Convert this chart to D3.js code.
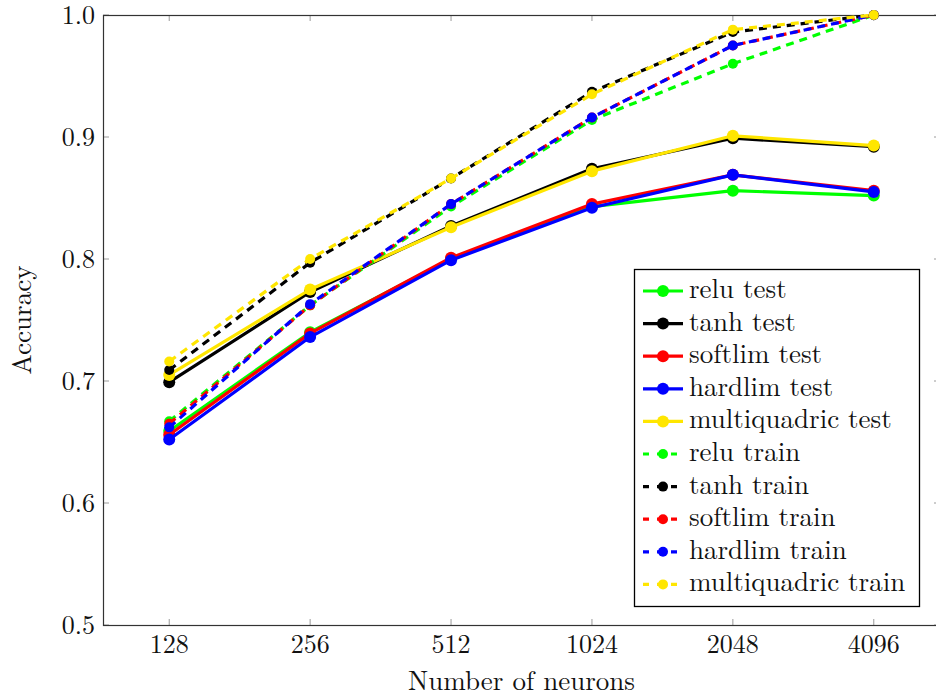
<!DOCTYPE html>
<html>
<head>
<meta charset="utf-8">
<script src="https://cdn.jsdelivr.net/npm/d3@7"></script>
<style>
  body { margin: 0; background: #fff; }
</style>
</head>
<body>
<div id="chart"></div>
<script>
// Data
var neurons = ["128", "256", "512", "1024", "2048", "4096"];
var yTicks = [0.5, 0.6, 0.7, 0.8, 0.9, 1.0];

var reluTest         = [0.659, 0.740, 0.800, 0.843, 0.856, 0.852];
var tanhTest         = [0.699, 0.773, 0.827, 0.874, 0.899, 0.892];
var softlimTest      = [0.656, 0.739, 0.801, 0.845, 0.869, 0.856];
var hardlimTest      = [0.652, 0.736, 0.799, 0.842, 0.869, 0.855];
var multiquadricTest = [0.705, 0.775, 0.826, 0.872, 0.901, 0.893];

var reluTrain         = [0.667, 0.762, 0.843, 0.914, 0.960, 1.000];
var tanhTrain         = [0.709, 0.797, 0.866, 0.937, 0.986, 1.000];
var softlimTrain      = [0.665, 0.762, 0.845, 0.916, 0.975, 1.000];
var hardlimTrain      = [0.662, 0.763, 0.845, 0.916, 0.975, 1.000];
var multiquadricTrain = [0.716, 0.800, 0.866, 0.935, 0.988, 1.000];

var green = "#00ff00", black = "#000000", red = "#ff0000",
    blue = "#0000ff", yellow = "#ffe600";

var series = [
  {name: "relu test", values: reluTest, color: green, dashed: false},
  {name: "tanh test", values: tanhTest, color: black, dashed: false},
  {name: "softlim test", values: softlimTest, color: red, dashed: false},
  {name: "hardlim test", values: hardlimTest, color: blue, dashed: false},
  {name: "multiquadric test", values: multiquadricTest, color: yellow, dashed: false},
  {name: "relu train", values: reluTrain, color: green, dashed: true},
  {name: "tanh train", values: tanhTrain, color: black, dashed: true},
  {name: "softlim train", values: softlimTrain, color: red, dashed: true},
  {name: "hardlim train", values: hardlimTrain, color: blue, dashed: true},
  {name: "multiquadric train", values: multiquadricTrain, color: yellow, dashed: true}
];

// Plot box (names avoid window.top)
var W = 936, H = 698;
var m = {left: 103, right: 940, top: 15, bottom: 625};

var svg = d3.select("#chart")
    .append("svg")
    .attr("width", W)
    .attr("height", H)
    .attr("font-family", "'Latin Modern Roman', 'Liberation Serif', serif");

var x = d3.scalePoint()
    .domain(neurons)
    .range([m.left, m.right])
    .padding(0.47);

var y = d3.scaleLinear()
    .domain([0.5, 1.0])
    .range([m.bottom, m.top]);

// Ticks (inward, on all four sides)
var tickLen = 6, tickColor = "#9a9a9a";
var ticks = svg.append("g").attr("stroke", tickColor).attr("stroke-width", 1);

ticks.selectAll(".yl").data(yTicks).enter().append("line")
    .attr("x1", m.left).attr("x2", m.left + tickLen)
    .attr("y1", function(d) { return y(d); }).attr("y2", function(d) { return y(d); });
ticks.selectAll(".yr").data(yTicks).enter().append("line")
    .attr("x1", m.right).attr("x2", m.right - tickLen)
    .attr("y1", function(d) { return y(d); }).attr("y2", function(d) { return y(d); });
ticks.selectAll(".xb").data(neurons).enter().append("line")
    .attr("y1", m.bottom).attr("y2", m.bottom - tickLen)
    .attr("x1", function(d) { return x(d); }).attr("x2", function(d) { return x(d); });
ticks.selectAll(".xt").data(neurons).enter().append("line")
    .attr("y1", m.top).attr("y2", m.top + tickLen)
    .attr("x1", function(d) { return x(d); }).attr("x2", function(d) { return x(d); });

// Frame
svg.append("rect")
    .attr("x", m.left + 0.5).attr("y", m.top + 0.5)
    .attr("width", m.right - m.left).attr("height", m.bottom - m.top)
    .attr("fill", "none")
    .attr("stroke", "#333")
    .attr("stroke-width", 1.2);

// Tick labels
svg.selectAll(".ylab").data(yTicks).enter().append("text")
    .attr("x", 95)
    .attr("y", function(d) { return y(d) + 9; })
    .attr("text-anchor", "end")
    .attr("font-size", 26)
    .attr("fill", "#111")
    .text(function(d) { return d3.format(".1f")(d); });

svg.selectAll(".xlab").data(neurons).enter().append("text")
    .attr("x", function(d) { return x(d); })
    .attr("y", 653)
    .attr("text-anchor", "middle")
    .attr("font-size", 26)
    .attr("fill", "#111")
    .text(function(d) { return d; });

// Axis titles
svg.append("text")
    .attr("x", (m.left + m.right) / 2)
    .attr("y", 690)
    .attr("text-anchor", "middle")
    .attr("font-size", 27)
    .attr("fill", "#111")
    .text("Number of neurons");

svg.append("text")
    .attr("transform", "translate(31," + ((m.top + m.bottom) / 2) + ") rotate(-90)")
    .attr("text-anchor", "middle")
    .attr("font-size", 27)
    .attr("fill", "#111")
    .text("Accuracy");

// Lines and marks
var line = d3.line()
    .x(function(d, i) { return x(neurons[i]); })
    .y(function(d) { return y(d); });

var plots = svg.selectAll(".series")
    .data(series)
    .enter()
    .append("g")
    .attr("class", "series");

plots.append("path")
    .attr("d", function(d) { return line(d.values); })
    .attr("fill", "none")
    .attr("stroke", function(d) { return d.color; })
    .attr("stroke-width", 3.2)
    .attr("stroke-linejoin", "round")
    .attr("stroke-dasharray", function(d) { return d.dashed ? "8,6" : null; });

plots.each(function(s) {
  d3.select(this).selectAll("circle")
      .data(s.values)
      .enter()
      .append("circle")
      .attr("cx", function(d, i) { return x(neurons[i]); })
      .attr("cy", function(d) { return y(d); })
      .attr("r", s.dashed ? 5 : 6)
      .attr("fill", s.color);
});

// Legend
var lgX = 634, lgY = 269, lgW = 285, lgH = 337, rowH = 32.6;
var legend = svg.append("g");

legend.append("rect")
    .attr("x", lgX + 0.5).attr("y", lgY + 0.5)
    .attr("width", lgW).attr("height", lgH)
    .attr("fill", "#fff")
    .attr("stroke", "#000")
    .attr("stroke-width", 1.3);

var rows = legend.selectAll(".row")
    .data(series)
    .enter()
    .append("g")
    .attr("transform", function(d, i) { return "translate(0," + (lgY + 22 + i * rowH) + ")"; });

rows.append("line")
    .attr("x1", 643).attr("x2", 683)
    .attr("y1", 0).attr("y2", 0)
    .attr("stroke", function(d) { return d.color; })
    .attr("stroke-width", 3.2)
    .attr("stroke-dasharray", function(d) { return d.dashed ? "6,8" : null; });

rows.append("circle")
    .attr("cx", 663).attr("cy", 0)
    .attr("r", function(d) { return d.dashed ? 5 : 6; })
    .attr("fill", function(d) { return d.color; });

rows.append("text")
    .attr("x", 689)
    .attr("y", 7)
    .attr("font-size", 27)
    .attr("fill", "#111")
    .text(function(d) { return d.name; });
</script>
</body>
</html>
